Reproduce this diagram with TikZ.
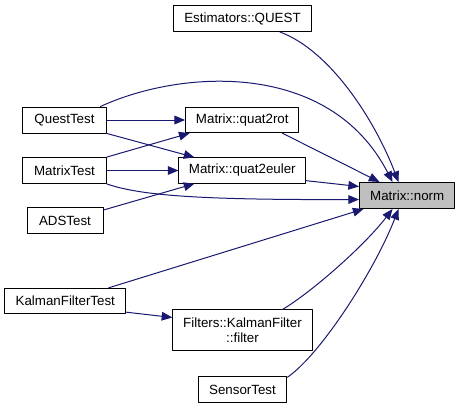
\documentclass[tikz,border=0pt]{standalone}
\usepackage{fontspec}
\setmainfont{Liberation Sans}
\usepackage{xcolor}
\usetikzlibrary{arrows.meta,calc}
\definecolor{DxBlue}{RGB}{25,25,112}
\definecolor{DxGray}{RGB}{191,191,191}
\tikzset{
  dxbox/.style  ={draw=black, fill=white, line width=0.75pt, inner sep=0pt,
                  font=\fontsize{10}{11.5}\selectfont, align=center},
  dxedge/.style ={draw=DxBlue, line width=0.75pt,
                  -{Triangle[length=8pt,width=6.5pt,fill=DxBlue]}},
}
\begin{document}
\begin{tikzpicture}[
  x=0.75pt,y=-0.75pt,
  line cap=round,
  line join=round
]

% --- Frame ---------------------------------------------------------------
\useasboundingbox (0,0) rectangle (460,408);

% --- Nodes ---------------------------------------------------------------
\node[dxbox, minimum width=103.5pt, minimum height=19.5pt] (quest)      at (242.5,18.5) {Estimators::QUEST};
\node[dxbox, minimum width=63pt,    minimum height=19.5pt] (questtest)  at (64.5,120)   {QuestTest};
\node[dxbox, minimum width=85pt,    minimum height=19pt]   (quat2rot)   at (242.3,120)  {Matrix::quat2rot};
\node[dxbox, minimum width=63pt,    minimum height=19.5pt] (matrixtest) at (64.5,170.5) {MatrixTest};
\node[dxbox, minimum width=95pt,    minimum height=19pt]   (quat2euler) at (242.3,170.5) {Matrix::quat2euler};
\node[dxbox, minimum width=57pt,    minimum height=19.5pt] (adstest)    at (65,220.5)   {ADSTest};
\node[dxbox, fill=DxGray, minimum width=71.5pt, minimum height=19.5pt] (norm) at (407.2,195.5) {Matrix::norm};
\node[dxbox, minimum width=90.5pt,  minimum height=19pt]   (kalmantest) at (65.3,301)   {KalmanFilterTest};
\node[dxbox, minimum width=104.5pt, minimum height=30.5pt] (filter)     at (242.5,330.3) {Filters::KalmanFilter\\::filter};
\node[dxbox, minimum width=66.5pt,  minimum height=19pt]   (sensortest) at (242.5,389.5) {SensorTest};

% --- Edges into the middle column ---------------------------------------
\draw[dxedge] (questtest.east) -- (quat2rot.west);
\draw[dxedge] (questtest.south east) -- ($(quat2euler.north west)+(16,0)$);
\draw[dxedge] (matrixtest.north east) -- ($(quat2rot.south west)+(4.5,0)$);
\draw[dxedge] (matrixtest.east) -- (quat2euler.west);
\draw[dxedge] ($(adstest.north east)+(0,3)$) -- ($(quat2euler.south west)+(16,0)$);
\draw[dxedge] ($(kalmantest.south east)+(0,-2)$) -- ($(filter.north west)+(0,8)$);

% --- Edges into Matrix::norm ---------------------------------------------
\draw[dxedge] ($(quest.south)+(37.5,0)$)
  .. controls +(50,18.5) and +(-24,-62.5) .. ($(norm.north west)+(39.5,0)$);
\draw[dxedge] ($(questtest.north east)+(-6.5,0)$)
  .. controls +(80,-37) and +(-63,-122.5) .. ($(norm.north west)+(33.5,0)$);
\draw[dxedge] ($(quat2rot.south)+(40,0)$) -- ($(norm.north west)+(20.5,0)$);
\draw[dxedge] ($(quat2euler.south east)+(0,-3)$) -- ($(norm.north west)+(0,4.5)$);
\draw[dxedge] (matrixtest.south east)
  .. controls +(33.5,11.5) and +(-159.5,0.5) .. ($(norm.west)+(0,4)$);
\draw[dxedge] ($(kalmantest.north east)+(-17.5,0)$) -- ($(norm.south west)+(4.5,0)$);
\draw[dxedge] ($(filter.north)+(40,0)$)
  .. controls +(30,-18) and +(-28,36.5) .. ($(norm.south west)+(33.5,0)$);
\draw[dxedge] ($(sensortest.north east)+(0,1)$)
  .. controls +(33.5,-23) and +(-24,61.5) .. ($(norm.south west)+(39.5,0)$);

\end{tikzpicture}
\end{document}
